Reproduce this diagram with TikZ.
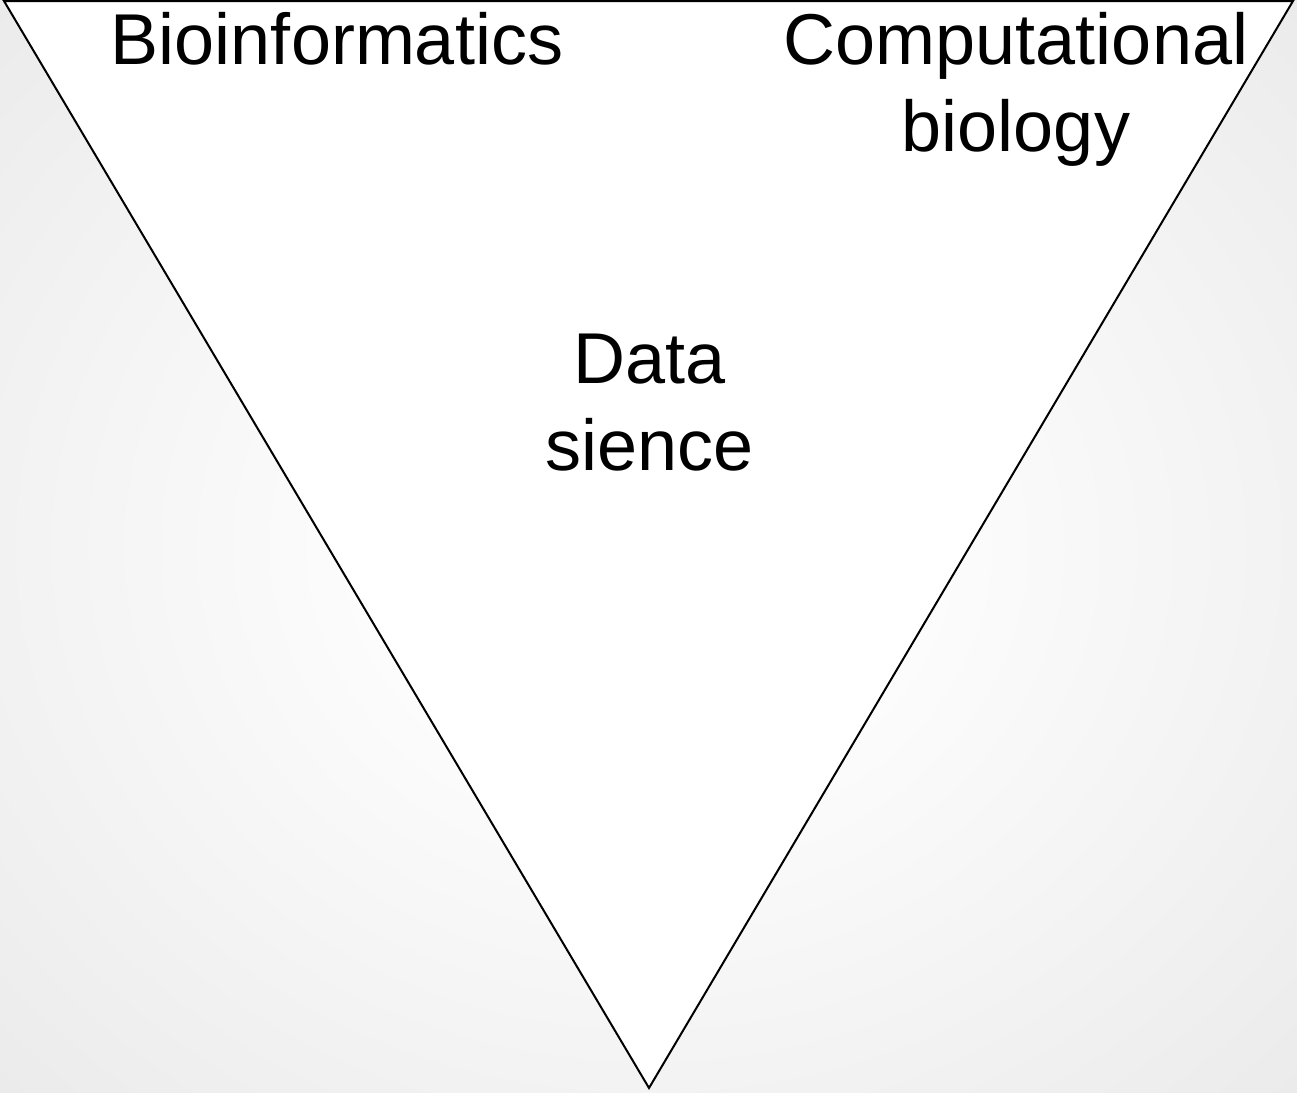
\documentclass[tikz,border=0pt]{standalone}
\usepackage{fontspec}
\setmainfont{Liberation Sans}
\pgfdeclareradialshading{bgshade}{\pgfpoint{0bp}{0bp}}{color(0bp)=(white); color(6bp)=(white); color(40bp)=(black!11); color(50bp)=(black!12)}
\tikzset{
  lbl/.style={inner sep=0pt, align=center, font=\fontsize{72}{87}\selectfont, text=black},
  tri/.style={draw=black, line width=2pt, fill=white, line join=miter}
}
\begin{document}
\begin{tikzpicture}[x=1pt,y=-1pt]
\useasboundingbox (0,0) rectangle (1297,1092);
\path[shading=bgshade] (-100,-100) rectangle (1397,1192);
\coordinate (tl) at (4,1);
\coordinate (tr) at (1293,1);
\coordinate (bt) at (649,1088);
\draw[tri] (tl) -- (tr) -- (bt) -- cycle;
\node[lbl, anchor=base] (bio) at (337,64) {Bioinformatics};
\node[lbl, anchor=base] (comp) at (1016,151) {Computational\\biology};
\node[lbl, anchor=base] (ds) at (650,470) {Data\\sience};
\end{tikzpicture}
\end{document}
